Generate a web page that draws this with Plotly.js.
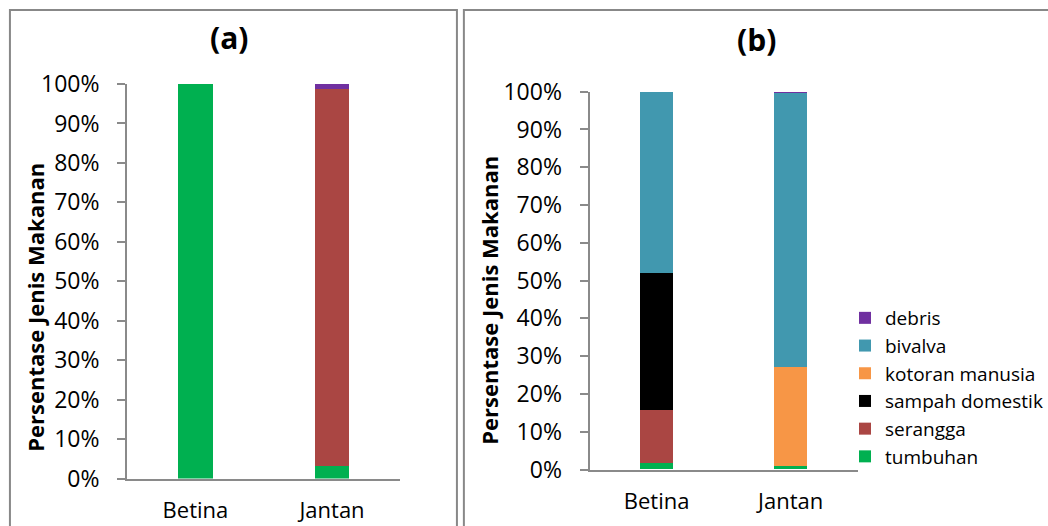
<!DOCTYPE html>
<html>
<head>
<meta charset="utf-8">
<script src="https://cdn.plot.ly/plotly-3.0.1.min.js"></script>
<style>
  html, body { margin: 0; padding: 0; background: #fff; }
  #chart { width: 1048px; height: 526px; }
</style>
</head>
<body>
<div id="chart"></div>
<script>
// Food composition (%) by sex
const categories = ['Betina', 'Jantan'];

// Panel (a)
const tumbuhanA = [100, 3.2];
const seranggaA = [0, 95.5];
const debrisA   = [0, 1.3];

// Panel (b)
const seriesNamesB = ['tumbuhan', 'serangga', 'sampah domestik', 'kotoran manusia', 'bivalva', 'debris'];
const tumbuhanB = [1.6, 1.0];
const seranggaB = [14.1, 0];
const sampahB   = [36.4, 0];
const kotoranB  = [0, 26.2];
const bivalvaB  = [47.9, 72.4];
const debrisB   = [0, 0.4];

const yTickVals = [0, 10, 20, 30, 40, 50, 60, 70, 80, 90, 100];
const yTickText = yTickVals.map(v => v + '%');

const colors = {
  tumbuhan: '#00B050',
  serangga: '#AA4643',
  sampah: '#000000',
  kotoran: '#F79646',
  bivalva: '#4198AF',
  debris: '#7030A0'
};

const W = 1048, H = 526;
const px = x => x / W;
const py = y => 1 - y / H;

function bar(name, y, color, axis, width, showlegend) {
  return {
    type: 'bar', name: name, x: categories, y: y,
    xaxis: axis[0], yaxis: axis[1],
    width: width,
    marker: { color: color, line: { width: 0 } },
    showlegend: showlegend,
    legendgroup: name,
    hoverinfo: 'skip'
  };
}

const A = ['x', 'y'], B = ['x2', 'y2'];
const data = [
  bar('tumbuhan', tumbuhanA, colors.tumbuhan, A, 0.25, false),
  bar('serangga', seranggaA, colors.serangga, A, 0.25, false),
  bar('debris', debrisA, colors.debris, A, 0.25, false),

  bar(seriesNamesB[0], tumbuhanB, colors.tumbuhan, B, 0.25, true),
  bar(seriesNamesB[1], seranggaB, colors.serangga, B, 0.25, true),
  bar(seriesNamesB[2], sampahB, colors.sampah, B, 0.25, true),
  bar(seriesNamesB[3], kotoranB, colors.kotoran, B, 0.25, true),
  bar(seriesNamesB[4], bivalvaB, colors.bivalva, B, 0.25, true),
  bar(seriesNamesB[5], debrisB, colors.debris, B, 0.25, true)
];

const FONT = '"Open Sans", "Noto Sans", sans-serif';
const axisGray = '#8a8a8a';

function xAxis(domain, anchor) {
  return {
    domain: domain, anchor: anchor,
    type: 'category', range: [-0.5, 1.5],
    showline: true, linecolor: axisGray, linewidth: 2,
    ticks: '', showgrid: false, zeroline: false,
    tickfont: { family: FONT, size: 22, color: '#000' },
    ticklabelstandoff: 11,
    fixedrange: true
  };
}
function yAxis(domain, anchor) {
  return {
    domain: domain, anchor: anchor,
    range: [0, 100],
    tickvals: yTickVals, ticktext: yTickText,
    showline: true, linecolor: axisGray, linewidth: 2,
    ticks: 'outside', ticklen: 8, tickwidth: 2, tickcolor: axisGray,
    showgrid: false, zeroline: false,
    tickfont: { family: FONT, size: 23, color: '#000' },
    ticklabelstandoff: 13,
    fixedrange: true
  };
}

function yTitle(x, y) {
  return {
    text: '<b>Persentase Jenis Makanan</b>', xref: 'paper', yref: 'paper',
    x: px(x), y: py(y), xanchor: 'center', yanchor: 'middle',
    textangle: -90, showarrow: false,
    font: { family: FONT, size: 22, color: '#000' }
  };
}
function panelTitle(text, x, y) {
  return {
    text: '<b>' + text + '</b>', xref: 'paper', yref: 'paper',
    x: px(x), y: py(y), xanchor: 'center', yanchor: 'middle',
    showarrow: false, font: { family: FONT, size: 30, color: '#000' }
  };
}

const layout = {
  width: W, height: H,
  margin: { l: 0, r: 0, t: 0, b: 0 },
  paper_bgcolor: '#fff', plot_bgcolor: '#fff',
  barmode: 'stack',
  showlegend: true,
  xaxis: xAxis([px(128), px(403)], 'y'),
  yaxis: yAxis([py(478.5), py(84)], 'x'),
  xaxis2: xAxis([px(593.5), px(863.5)], 'y2'),
  yaxis2: yAxis([py(469.5), py(91.7)], 'x2'),
  legend: {
    x: px(851), y: py(299), xanchor: 'left', yanchor: 'top',
    traceorder: 'reversed',
    font: { family: FONT, size: 19, color: '#000' },
    bgcolor: 'rgba(0,0,0,0)', borderwidth: 0,
    tracegroupgap: 0
  },
  shapes: [
    { type: 'rect', xref: 'paper', yref: 'paper',
      x0: px(10), x1: px(460), y0: py(540), y1: py(10),
      line: { color: '#888', width: 2 }, fillcolor: 'rgba(0,0,0,0)' },
    { type: 'rect', xref: 'paper', yref: 'paper',
      x0: px(467), x1: px(1060), y0: py(540), y1: py(10),
      line: { color: '#888', width: 2 }, fillcolor: 'rgba(0,0,0,0)' }
  ],
  annotations: [
    panelTitle('(a)', 231, 38),
    panelTitle('(b)', 762, 39),
    yTitle(35, 307),
    yTitle(492, 300)
  ]
};

Plotly.newPlot('chart', data, layout, { staticPlot: true, displayModeBar: false });
</script>
</body>
</html>
